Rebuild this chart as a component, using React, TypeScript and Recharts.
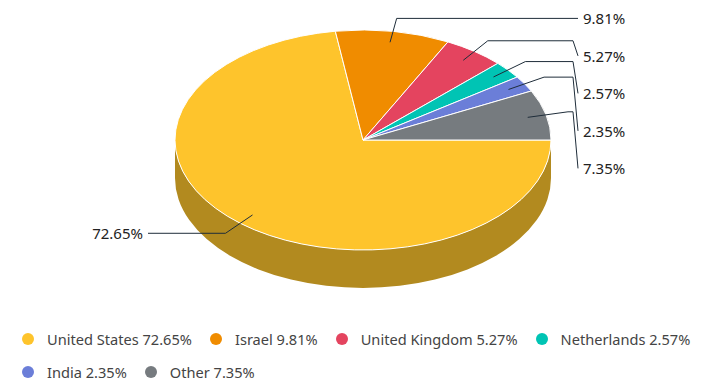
import React from 'react'
import { PieChart, Pie, Cell, Legend } from 'recharts'

const countries = ['United States', 'Israel', 'United Kingdom', 'Netherlands', 'India', 'Other']
const shares = [72.65, 9.81, 5.27, 2.57, 2.35, 7.35]
const COLORS = ['#fec42c', '#f08c00', '#e4445f', '#00c4b4', '#6b7ed8', '#767b7f']
const SIDE_COLORS = ['#b28a1f', '#a86200', '#a02f43', '#00897e', '#4b5897', '#53565a']

const data = countries.map((name, i) => ({ name, value: shares[i] }))

const CX = 363
const CY = 140
const RX = 188
const TILT = 0.585
const DEPTH = 38
const RADIAN = Math.PI / 180
const LABEL_GAP = 37.5
const FONT = '"Noto Sans", "Open Sans", sans-serif'

// ellipse point for a recharts angle (ccw from 3 o'clock)
const ePoint = (cx: number, cy: number, rx: number, ry: number, a: number, k = 1, dy = 0) => [
  cx + rx * k * Math.cos(a * RADIAN),
  cy - ry * k * Math.sin(a * RADIAN) + dy
]

const Slice3D = (props: any) => {
  const { cx, cy, outerRadius, startAngle, endAngle, index } = props
  const rx = outerRadius
  const ry = outerRadius * TILT
  const lo = Math.min(startAngle, endAngle)
  const hi = Math.max(startAngle, endAngle)
  const [x1, y1] = ePoint(cx, cy, rx, ry, startAngle)
  const [x2, y2] = ePoint(cx, cy, rx, ry, endAngle)
  const large = hi - lo > 180 ? 1 : 0
  const sweep = endAngle < startAngle ? 1 : 0
  const top = `M${cx},${cy}L${x1},${y1}A${rx},${ry} 0 ${large} ${sweep} ${x2},${y2}Z`

  const sides: string[] = []
  for (const k of [-360, 0, 360]) {
    const a = Math.max(lo, -180 + k)
    const b = Math.min(hi, k)
    if (b > a) {
      const [ax, ay] = ePoint(cx, cy, rx, ry, a)
      const [bx, by] = ePoint(cx, cy, rx, ry, b)
      const la = b - a > 180 ? 1 : 0
      sides.push(
        `M${ax},${ay}A${rx},${ry} 0 ${la} 0 ${bx},${by}L${bx},${by + DEPTH}A${rx},${ry} 0 ${la} 1 ${ax},${ay + DEPTH}Z`
      )
    }
  }

  return (
    <g>
      {sides.map((d, i) => (
        <path key={i} d={d} fill={SIDE_COLORS[index % SIDE_COLORS.length]} />
      ))}
      <path d={top} fill={COLORS[index % COLORS.length]} stroke="#ffffff" strokeWidth={1} strokeLinejoin="round" />
    </g>
  )
}

// label placement, computed from the same data the pie uses
const layoutLabels = () => {
  const total = shares.reduce((s, v) => s + v, 0)
  const ry = RX * TILT
  let acc = 0
  const items = shares.map((v, i) => {
    const s = -(acc / total) * 360
    acc += v
    const e = -(acc / total) * 360
    const mid = (s + e) / 2
    const right = Math.cos(mid * RADIAN) >= 0
    const anchor = ePoint(CX, CY, RX, ry, mid, 0.9)
    const elbow = ePoint(CX, CY, RX, ry, mid, 1.12)
    return { i, mid, right, anchor, elbow, y: elbow[1] }
  })
  for (const side of [true, false]) {
    const group = items.filter(it => it.right === side).sort((a, b) => a.elbow[1] - b.elbow[1])
    let prev = -Infinity
    group.forEach(it => {
      it.y = Math.max(it.elbow[1], prev + LABEL_GAP)
      prev = it.y
    })
  }
  return items
}

const labelLayout = layoutLabels()

const renderLabel = (props: any) => {
  const { index } = props
  const it = labelLayout[index]
  const dir = it.right ? 1 : -1
  const edge = it.right ? CX + RX : CX - RX
  const hx = edge + dir * 22
  const ex = edge + dir * 27
  const tx = edge + dir * 32
  const d = `M${it.anchor[0]},${it.anchor[1]}L${it.elbow[0]},${it.elbow[1]}L${hx},${it.elbow[1]}L${ex},${it.y}`
  return (
    <g key={`label-${index}`}>
      <path d={d} fill="none" stroke="#1f2d3a" strokeWidth={1} />
      <text
        x={tx}
        y={it.y}
        fill="#222222"
        fontSize={15}
        fontFamily={FONT}
        textAnchor={it.right ? 'start' : 'end'}
        dominantBaseline="central"
      >
        {`${shares[index].toFixed(2)}%`}
      </text>
    </g>
  )
}

const renderLegend = () => (
  <div
    style={{
      display: 'flex',
      flexWrap: 'wrap',
      width: 700,
      fontFamily: FONT,
      fontSize: 14.6,
      color: '#444444'
    }}
  >
    {countries.map((name, i) => (
      <div key={name} style={{ display: 'flex', alignItems: 'center', height: 33, marginRight: 18 }}>
        <svg width={12} height={12} style={{ marginRight: 13, flexShrink: 0 }}>
          <circle cx={6} cy={6} r={6} fill={COLORS[i]} />
        </svg>
        <span style={{ whiteSpace: 'nowrap' }}>
          {name} {shares[i].toFixed(2)}%
        </span>
      </div>
    ))}
  </div>
)

export default function App() {
  return (
    <div style={{ width: 707, height: 381, background: '#ffffff' }}>
      <style>{'body{margin:0}'}</style>
      <PieChart width={707} height={381} margin={{ top: 0, right: 0, bottom: 0, left: 0 }}>
        <Pie
          data={data}
          dataKey="value"
          nameKey="name"
          cx={CX}
          cy={CY}
          outerRadius={RX}
          startAngle={0}
          endAngle={-360}
          stroke="none"
          shape={Slice3D}
          label={renderLabel}
          labelLine={false}
          isAnimationActive={false}
        >
          {data.map((entry, index) => (
            <Cell key={`cell-${index}`} fill={COLORS[index]} />
          ))}
        </Pie>
        <Legend content={renderLegend} wrapperStyle={{ top: 322, left: 22, width: 700 }} />
      </PieChart>
    </div>
  )
}
